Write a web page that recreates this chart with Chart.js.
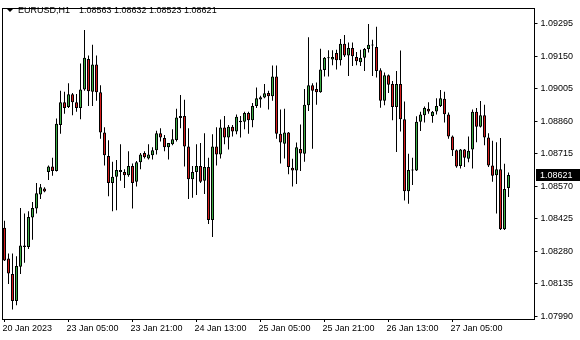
<!DOCTYPE html>
<html>
<head>
<meta charset="utf-8">
<script src="https://cdn.jsdelivr.net/npm/chart.js@4.4.1/dist/chart.umd.min.js"></script>
<style>
  html, body { margin: 0; padding: 0; background: #fff; }
  #wrap { position: relative; width: 580px; height: 340px; }
</style>
</head>
<body>
<div id="wrap"><canvas id="chartMain"></canvas></div>
<script>
/*********************************/
// EURUSD H1 candlestick chart   //
/*********************************/

const symbol = 'EURUSD,H1';

// hourly bars, 20 Jan 2023 13:00 .. 27 Jan 2023 19:00
const open = [
  1.08386, 1.08249, 1.08179, 1.08059, 1.08212, 1.08300, 1.08300, 1.08431, 1.08471, 1.08534,
  1.08561, 1.08634, 1.08658, 1.08639, 1.08843, 1.08945, 1.08924, 1.08981, 1.08945, 1.08919,
  1.09002, 1.09138, 1.08992, 1.09113, 1.08989, 1.08810, 1.08705, 1.08585, 1.08613, 1.08643,
  1.08634, 1.08620, 1.08661, 1.08591, 1.08678, 1.08719, 1.08694, 1.08709, 1.08731, 1.08807,
  1.08785, 1.08744, 1.08758, 1.08777, 1.08875, 1.08884, 1.08748, 1.08602, 1.08634, 1.08661,
  1.08595, 1.08656, 1.08420, 1.08748, 1.08712, 1.08832, 1.08788, 1.08836, 1.08814, 1.08856,
  1.08858, 1.08897, 1.08865, 1.08928, 1.08957, 1.08966, 1.08986, 1.08972, 1.09059, 1.08804,
  1.08760, 1.08810, 1.08653, 1.08641, 1.08737, 1.08715, 1.08931, 1.09021, 1.09004, 1.08989,
  1.09088, 1.09141, 1.09135, 1.09164, 1.09132, 1.09205, 1.09153, 1.09186, 1.09147, 1.09123,
  1.09143, 1.09182, 1.09198, 1.09191, 1.09087, 1.08952, 1.09065, 1.09026, 1.08924, 1.09026,
  1.08869, 1.08548, 1.08641, 1.08641, 1.08858, 1.08887, 1.08916, 1.08884, 1.08904, 1.08928,
  1.08960, 1.08890, 1.08792, 1.08731, 1.08661, 1.08734, 1.08693, 1.08734, 1.08902, 1.08836,
  1.08887, 1.08788, 1.08663, 1.08620, 1.08646, 1.08379, 1.08563
];
const high = [
  1.08417, 1.08271, 1.08271, 1.08259, 1.08474, 1.08449, 1.08459, 1.08500, 1.08585, 1.08580,
  1.08566, 1.08663, 1.08697, 1.08872, 1.08996, 1.08992, 1.09030, 1.08986, 1.08982, 1.09118,
  1.09267, 1.09153, 1.09201, 1.09153, 1.09021, 1.08833, 1.08775, 1.08680, 1.08687, 1.08758,
  1.08646, 1.08726, 1.08672, 1.08683, 1.08719, 1.08726, 1.08758, 1.08744, 1.08818, 1.08829,
  1.08799, 1.08763, 1.08824, 1.08916, 1.08977, 1.08956, 1.08829, 1.08661, 1.08758, 1.08763,
  1.08807, 1.08697, 1.08802, 1.08833, 1.08868, 1.08884, 1.08843, 1.08843, 1.08890, 1.08884,
  1.08902, 1.08902, 1.08942, 1.09011, 1.08974, 1.09026, 1.08996, 1.09109, 1.09109, 1.08913,
  1.08916, 1.08812, 1.08693, 1.08766, 1.08846, 1.09004, 1.09235, 1.09029, 1.09033, 1.09183,
  1.09147, 1.09176, 1.09176, 1.09179, 1.09227, 1.09245, 1.09211, 1.09211, 1.09169, 1.09179,
  1.09186, 1.09293, 1.09223, 1.09281, 1.09096, 1.09077, 1.09069, 1.09040, 1.09084, 1.09175,
  1.08948, 1.08715, 1.08697, 1.08882, 1.08902, 1.08926, 1.08945, 1.08906, 1.08963, 1.08999,
  1.08992, 1.08899, 1.08797, 1.08734, 1.08737, 1.08737, 1.08792, 1.08912, 1.08919, 1.08950,
  1.08934, 1.08807, 1.08773, 1.08767, 1.08785, 1.08671, 1.08632
];
const low = [
  1.08237, 1.08135, 1.08021, 1.08040, 1.08179, 1.08230, 1.08291, 1.08332, 1.08449, 1.08514,
  1.08544, 1.08598, 1.08617, 1.08636, 1.08804, 1.08894, 1.08919, 1.08887, 1.08902, 1.08869,
  1.08996, 1.08928, 1.08928, 1.08952, 1.08782, 1.08663, 1.08526, 1.08459, 1.08464, 1.08595,
  1.08563, 1.08613, 1.08471, 1.08569, 1.08646, 1.08694, 1.08690, 1.08690, 1.08712, 1.08770,
  1.08726, 1.08690, 1.08753, 1.08770, 1.08829, 1.08658, 1.08514, 1.08519, 1.08532, 1.08585,
  1.08536, 1.08402, 1.08344, 1.08663, 1.08694, 1.08758, 1.08734, 1.08792, 1.08802, 1.08788,
  1.08825, 1.08804, 1.08833, 1.08919, 1.08920, 1.08963, 1.08913, 1.08952, 1.08782, 1.08672,
  1.08694, 1.08624, 1.08569, 1.08580, 1.08639, 1.08680, 1.08906, 1.08738, 1.08934, 1.08987,
  1.09059, 1.09059, 1.09110, 1.09091, 1.09109, 1.09147, 1.09062, 1.09106, 1.09110, 1.09106,
  1.09084, 1.09167, 1.09062, 1.09055, 1.08920, 1.08931, 1.08986, 1.08865, 1.08723, 1.08814,
  1.08507, 1.08493, 1.08576, 1.08639, 1.08817, 1.08855, 1.08894, 1.08853, 1.08890, 1.08924,
  1.08855, 1.08782, 1.08705, 1.08653, 1.08650, 1.08656, 1.08678, 1.08650, 1.08767, 1.08832,
  1.08753, 1.08656, 1.08591, 1.08449, 1.08376, 1.08376, 1.08523
];
const close = [
  1.08240, 1.08182, 1.08059, 1.08215, 1.08306, 1.08306, 1.08434, 1.08474, 1.08539, 1.08566,
  1.08547, 1.08658, 1.08639, 1.08849, 1.08945, 1.08919, 1.08981, 1.08945, 1.08919, 1.09002,
  1.09143, 1.08994, 1.09113, 1.08989, 1.08810, 1.08709, 1.08585, 1.08613, 1.08643, 1.08634,
  1.08620, 1.08661, 1.08585, 1.08678, 1.08712, 1.08700, 1.08712, 1.08731, 1.08807, 1.08788,
  1.08744, 1.08763, 1.08780, 1.08877, 1.08884, 1.08748, 1.08602, 1.08634, 1.08661, 1.08591,
  1.08656, 1.08420, 1.08748, 1.08712, 1.08832, 1.08788, 1.08836, 1.08814, 1.08880, 1.08862,
  1.08897, 1.08865, 1.08928, 1.08963, 1.08967, 1.08985, 1.08972, 1.09059, 1.08804, 1.08766,
  1.08810, 1.08656, 1.08641, 1.08744, 1.08716, 1.08934, 1.09021, 1.08996, 1.08989, 1.09091,
  1.09143, 1.09145, 1.09147, 1.09132, 1.09205, 1.09153, 1.09186, 1.09150, 1.09128, 1.09143,
  1.09182, 1.09201, 1.09200, 1.09084, 1.08952, 1.09065, 1.09023, 1.08924, 1.09026, 1.08869,
  1.08548, 1.08643, 1.08645, 1.08858, 1.08890, 1.08919, 1.08904, 1.08902, 1.08928, 1.08963,
  1.08891, 1.08792, 1.08731, 1.08658, 1.08734, 1.08697, 1.08729, 1.08902, 1.08836, 1.08887,
  1.08788, 1.08663, 1.08617, 1.08646, 1.08379, 1.08558, 1.08621
];

// price axis
const yMin = 1.07979;
const yMax = 1.09363;
const priceTicks = [1.07990, 1.08135, 1.08280, 1.08425, 1.08570, 1.08715, 1.08860, 1.09005, 1.09150, 1.09295];

// time axis
const timeLabels = ['20 Jan 2023', '23 Jan 05:00', '23 Jan 21:00', '24 Jan 13:00',
                    '25 Jan 05:00', '25 Jan 21:00', '26 Jan 13:00', '27 Jan 05:00'];
const labelEvery = 16;
const shiftBars = 6; // empty space right of the last bar

// hourly categories, weekend skipped
const months = ['Jan', 'Feb', 'Mar'];
const categories = [];
let t = Date.UTC(2023, 0, 20, 13);
while (categories.length < close.length) {
  const d = new Date(t);
  const wd = d.getUTCDay();
  if (wd !== 0 && wd !== 6) {
    categories.push(d.getUTCDate() + ' ' + months[d.getUTCMonth()] + ' ' +
      String(d.getUTCHours()).padStart(2, '0') + ':00');
  }
  t += 3600000;
}
for (let i = 0; i < shiftBars; i++) categories.push('');

const bullColor = '#3daf45';
const bearColor = '#d71c1c';

Chart.defaults.font.family = '"Liberation Sans", Arial, sans-serif';
Chart.defaults.font.size = 9;
Chart.defaults.color = '#000';

// frame, symbol header and last price box
const terminal = {
  id: 'terminal',
  afterDraw(chart) {
    const { ctx, chartArea: a, scales } = chart;
    ctx.save();
    ctx.strokeStyle = '#000';
    ctx.lineWidth = 1;
    const l = Math.floor(a.left) + 0.5, r = Math.floor(a.right) + 0.5;
    const tp = Math.floor(a.top) + 0.5, b = Math.floor(a.bottom) + 0.5;
    ctx.strokeRect(l, tp, r - l, b - tp);

    ctx.fillStyle = '#000';
    ctx.beginPath();
    ctx.moveTo(7, 9);
    ctx.lineTo(13, 9);
    ctx.lineTo(10, 12);
    ctx.closePath();
    ctx.fill();

    ctx.font = '9px "Liberation Sans", Arial, sans-serif';
    ctx.textBaseline = 'middle';
    ctx.textAlign = 'left';
    ctx.fillText(symbol, 18, 11);
    const last = close.length - 1;
    const ohlc = [open[last], high[last], low[last], close[last]].map(v => v.toFixed(5)).join(' ');
    ctx.fillText(ohlc, 79, 11);

    const y = Math.round(scales.y.getPixelForValue(close[last]));
    ctx.fillRect(536, y - 6, 44, 12);
    ctx.fillStyle = '#fff';
    ctx.fillText(close[last].toFixed(5), 540, y + 0.5);
    ctx.restore();
  }
};

var ctx = document.getElementById('chartMain');
var chartMain = new Chart(ctx, {
  type: 'bar',
  data: {
    labels: categories,
    datasets: [{
      label: 'range',
      data: low.map((v, i) => [v, high[i]]),
      backgroundColor: '#000',
      barThickness: 1,
      inflateAmount: 0,
      grouped: false,
      order: 2
    }, {
      label: 'body',
      data: open.map((v, i) => [v, close[i]]),
      backgroundColor: open.map((v, i) => close[i] >= v ? bullColor : bearColor),
      borderColor: '#000',
      borderWidth: 1,
      borderSkipped: false,
      barThickness: 3,
      minBarLength: 1,
      inflateAmount: 0,
      grouped: false,
      order: 1
    }]
  },
  options: {
    responsive: true,
    maintainAspectRatio: false,
    animation: false,
    events: [],
    layout: { padding: { left: 2.5, top: 3, right: 0, bottom: 0 } },
    plugins: { legend: { display: false }, tooltip: { enabled: false } },
    scales: {
      x: {
        type: 'category',
        offset: true,
        grid: { offset: false, drawOnChartArea: false, tickLength: 3, color: '#000' },
        border: { display: false },
        ticks: {
          autoSkip: false, maxRotation: 0, minRotation: 0,
          align: 'start', labelOffset: -2, padding: 1,
          callback: v => timeLabels[v / labelEvery]
        },
        afterBuildTicks: s => {
          s.ticks = s.ticks.filter(tk => tk.value % labelEvery === 0 && tk.value < close.length);
        },
        afterFit: s => { s.height = 21; }
      },
      y: {
        position: 'right',
        min: yMin,
        max: yMax,
        beginAtZero: false,
        grid: { drawOnChartArea: false, tickLength: 3, color: '#000' },
        border: { display: false },
        ticks: { padding: 3, callback: v => v.toFixed(5) },
        afterBuildTicks: s => { s.ticks = priceTicks.map(v => ({ value: v })); },
        afterFit: s => { s.width = 45.5; }
      }
    }
  },
  plugins: [terminal]
});
</script>
</body>
</html>
